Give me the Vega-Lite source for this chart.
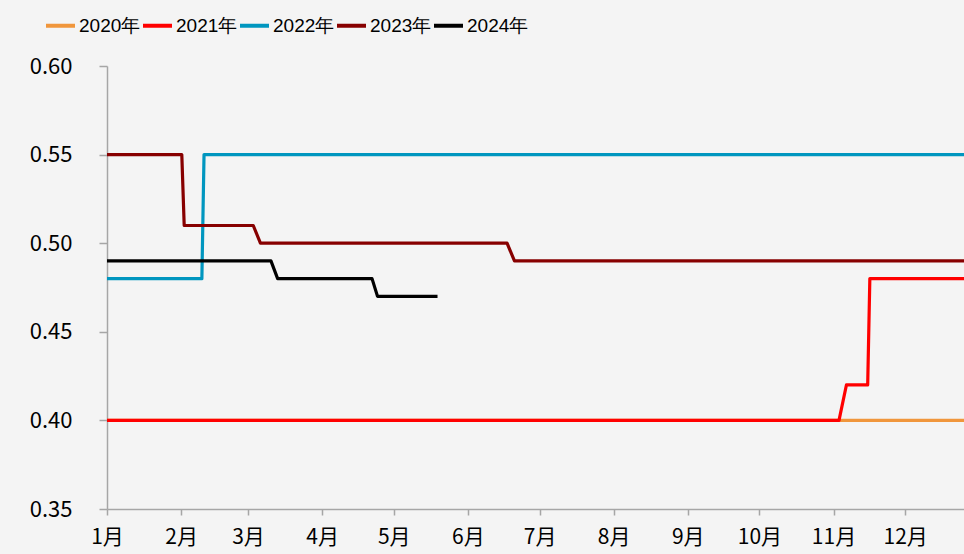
{
  "$schema": "https://vega.github.io/schema/vega-lite/v6.json",
  "width": 857,
  "height": 443,
  "autosize": {"type": "none"},
  "padding": {"left": 107, "top": 66, "right": 0, "bottom": 45},
  "background": "#f4f4f4",
  "config": {
    "view": {"stroke": null},
    "font": "Noto Sans CJK SC"
  },
  "data": {
    "values": [
      {"year": "2020年", "day": 0, "rate": 0.40},
      {"year": "2020年", "day": 358.6, "rate": 0.40},
      {"year": "2021年", "day": 0, "rate": 0.40},
      {"year": "2021年", "day": 306.3, "rate": 0.40},
      {"year": "2021年", "day": 309.4, "rate": 0.42},
      {"year": "2021年", "day": 318.3, "rate": 0.42},
      {"year": "2021年", "day": 319.2, "rate": 0.48},
      {"year": "2021年", "day": 358.6, "rate": 0.48},
      {"year": "2022年", "day": 0, "rate": 0.48},
      {"year": "2022年", "day": 39.7, "rate": 0.48},
      {"year": "2022年", "day": 40.6, "rate": 0.55},
      {"year": "2022年", "day": 358.6, "rate": 0.55},
      {"year": "2023年", "day": 0, "rate": 0.55},
      {"year": "2023年", "day": 31.3, "rate": 0.55},
      {"year": "2023年", "day": 32.3, "rate": 0.51},
      {"year": "2023年", "day": 61.2, "rate": 0.51},
      {"year": "2023年", "day": 64.2, "rate": 0.50},
      {"year": "2023年", "day": 167.4, "rate": 0.50},
      {"year": "2023年", "day": 170.5, "rate": 0.49},
      {"year": "2023年", "day": 358.6, "rate": 0.49},
      {"year": "2024年", "day": 0, "rate": 0.49},
      {"year": "2024年", "day": 68.6, "rate": 0.49},
      {"year": "2024年", "day": 71.4, "rate": 0.48},
      {"year": "2024年", "day": 110.9, "rate": 0.48},
      {"year": "2024年", "day": 113.2, "rate": 0.47},
      {"year": "2024年", "day": 138.3, "rate": 0.47}
    ]
  },
  "mark": {"type": "line", "strokeWidth": 3.2, "clip": true, "strokeJoin": "round"},
  "encoding": {
    "x": {
      "field": "day",
      "type": "quantitative",
      "scale": {"domain": [0, 358.6], "nice": false, "zero": false},
      "axis": {
        "title": null,
        "grid": false,
        "values": [0, 31, 59, 90, 120, 151, 181, 212, 243, 273, 304, 334],
        "labelExpr": "(indexof([0, 31, 59, 90, 120, 151, 181, 212, 243, 273, 304, 334], datum.value) + 1) + '月'",
        "domainColor": "#a6a6a6",
        "domainWidth": 1.5,
        "tickColor": "#a6a6a6",
        "tickWidth": 1.5,
        "tickSize": 6,
        "labelFontSize": 21,
        "labelColor": "#000000",
        "labelPadding": 11,
        "labelFont": "Noto Sans CJK SC",
        "labelFlush": false
      }
    },
    "y": {
      "field": "rate",
      "type": "quantitative",
      "scale": {"domain": [0.35, 0.60], "nice": false, "zero": false},
      "axis": {
        "title": null,
        "grid": false,
        "values": [0.35, 0.40, 0.45, 0.50, 0.55, 0.60],
        "format": ".2f",
        "domainColor": "#a6a6a6",
        "domainWidth": 1.5,
        "tickColor": "#a6a6a6",
        "tickWidth": 1.5,
        "tickSize": 8,
        "labelFontSize": 22,
        "labelColor": "#000000",
        "labelPadding": 27,
        "labelFont": "Noto Sans CJK SC"
      }
    },
    "color": {
      "field": "year",
      "type": "nominal",
      "scale": {
        "domain": ["2020年", "2021年", "2022年", "2023年", "2024年"],
        "range": ["#f0963c", "#ff0000", "#0096bf", "#870000", "#000000"]
      },
      "legend": {
        "title": null,
        "orient": "none",
        "direction": "horizontal",
        "legendX": -63,
        "legendY": -57,
        "symbolType": "stroke",
        "symbolSize": 841,
        "symbolStrokeWidth": 4,
        "labelFontSize": 19,
        "labelFont": "Liberation Sans",
        "labelColor": "#000000",
        "labelOffset": 2,
        "columnPadding": -8,
        "symbolOffset": 0
      }
    }
  }
}
